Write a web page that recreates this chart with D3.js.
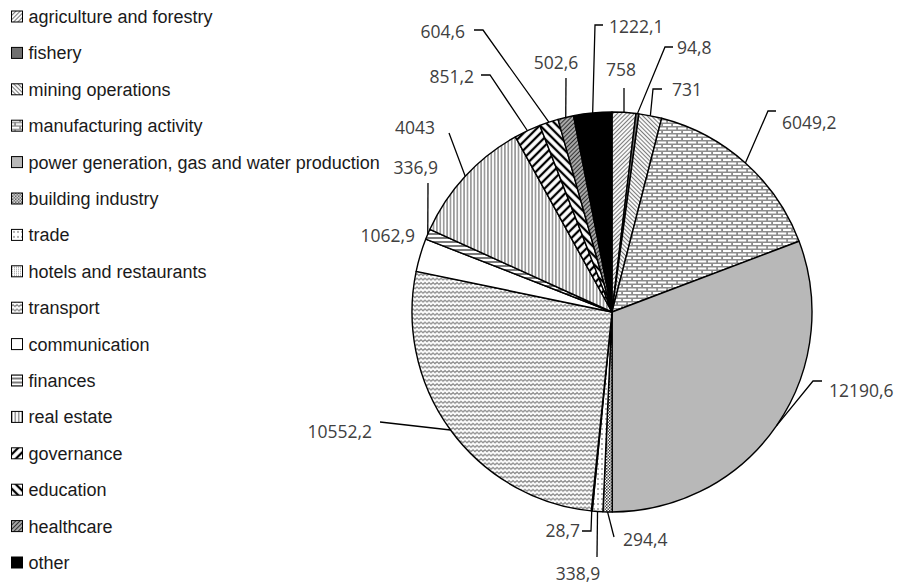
<!DOCTYPE html>
<html>
<head>
<meta charset="utf-8">
<script src="https://cdn.jsdelivr.net/npm/d3@7/dist/d3.min.js"></script>
<style>
  html, body { margin: 0; padding: 0; background: #fff; }
  svg { display: block; }
</style>
</head>
<body>
<svg id="chart" width="899" height="585"></svg>
<script>
// Sectors of the economy and their values (clockwise from 12 o'clock)
const categories = [
  "agriculture and forestry",
  "fishery",
  "mining operations",
  "manufacturing activity",
  "power generation, gas and water production",
  "building industry",
  "trade",
  "hotels and restaurants",
  "transport",
  "communication",
  "finances",
  "real estate",
  "governance",
  "education",
  "healthcare",
  "other"
];
const values = [758, 94.8, 731, 6049.2, 12190.6, 294.4, 338.9, 28.7, 10552.2, 1062.9, 336.9, 4043, 851.2, 604.6, 502.6, 1222.1];
const valueLabels = values.map(v => String(v).replace(".", ","));

// Fill style for each sector
const fillKeys = [
  "agri", "fish", "mining", "brick", "power", "building", "trade", "hotels",
  "wave", "comm", "hlines", "vlines", "govern", "educ", "health", "other"
];

// Hand placement of the value labels and their leader-line bends
const labelLayout = [
  { x: 621, y: 70,  anchor: "middle", bend: [[624, 88]] },
  { x: 677, y: 48,  anchor: "start",  bend: [[665, 47], [673, 47]] },
  { x: 672, y: 90,  anchor: "start",  bend: [[653, 89], [662, 89]] },
  { x: 782, y: 123, anchor: "start",  bend: [[768, 111], [776, 111]] },
  { x: 829, y: 391, anchor: "start",  bend: [[813, 381], [822, 381]] },
  { x: 623, y: 540, anchor: "start",  bend: [[614, 537]] },
  { x: 578, y: 574, anchor: "middle", bend: [[597, 557]] },
  { x: 580, y: 531, anchor: "end",    bend: [[591, 531], [582, 531]] },
  { x: 372, y: 432, anchor: "end",    bend: [[380, 422]] },
  { x: 415, y: 236, anchor: "end",    bend: null },
  { x: 438, y: 168, anchor: "end",    bend: [[428, 183]] },
  { x: 435, y: 128, anchor: "end",    bend: [[449, 133]] },
  { x: 474, y: 77,  anchor: "end",    bend: [[490, 75], [481, 75]] },
  { x: 465, y: 32,  anchor: "end",    bend: [[483, 30], [474, 30]] },
  { x: 556, y: 63,  anchor: "middle", bend: [[566, 78]] },
  { x: 609, y: 27,  anchor: "start",  bend: [[595, 25], [603, 25]] }
];

const svg = d3.select("#chart");
const defs = svg.append("defs");

function linePattern(id, spacing, angle, color, width, bg) {
  const p = defs.append("pattern")
    .attr("id", id)
    .attr("patternUnits", "userSpaceOnUse")
    .attr("width", spacing).attr("height", spacing)
    .attr("patternTransform", `rotate(${angle})`);
  p.append("rect").attr("width", spacing).attr("height", spacing).attr("fill", bg || "#fff");
  p.append("line").attr("x1", spacing / 2).attr("y1", 0).attr("x2", spacing / 2).attr("y2", spacing)
    .attr("stroke", color).attr("stroke-width", width);
}

linePattern("agri", 3, 45, "#7a7a7a", 1.1);
linePattern("mining", 3, -45, "#7a7a7a", 1.1);
linePattern("vlines", 3.4, 0, "#555", 1);
linePattern("hlines", 4, 90, "#333", 1.3);
linePattern("govern", 6, 45, "#000", 2.3);
linePattern("educ", 6, -45, "#000", 2.3);
linePattern("health", 3, 45, "#333", 1.3, "#bbb");

// brick wall
{
  const p = defs.append("pattern").attr("id", "brick").attr("patternUnits", "userSpaceOnUse")
    .attr("width", 10).attr("height", 7);
  p.append("rect").attr("width", 10).attr("height", 7).attr("fill", "#8c8c8c");
  p.append("rect").attr("x", 1).attr("y", 1).attr("width", 8.2).attr("height", 2).attr("fill", "#fff");
  p.append("rect").attr("x", -4).attr("y", 4.5).attr("width", 8.2).attr("height", 2).attr("fill", "#fff");
  p.append("rect").attr("x", 6).attr("y", 4.5).attr("width", 8.2).attr("height", 2).attr("fill", "#fff");
}
// dense dotted checker
{
  const p = defs.append("pattern").attr("id", "building").attr("patternUnits", "userSpaceOnUse")
    .attr("width", 3).attr("height", 3);
  p.append("rect").attr("width", 3).attr("height", 3).attr("fill", "#fff");
  p.append("rect").attr("width", 1.5).attr("height", 1.5).attr("fill", "#333");
  p.append("rect").attr("x", 1.5).attr("y", 1.5).attr("width", 1.5).attr("height", 1.5).attr("fill", "#555");
}
// sparse dashes
{
  const p = defs.append("pattern").attr("id", "trade").attr("patternUnits", "userSpaceOnUse")
    .attr("width", 4).attr("height", 5);
  p.append("rect").attr("width", 4).attr("height", 5).attr("fill", "#fff");
  p.append("rect").attr("x", 1.5).attr("y", 1).attr("width", 1).attr("height", 2).attr("fill", "#666");
}
// fine light dots
{
  const p = defs.append("pattern").attr("id", "hotels").attr("patternUnits", "userSpaceOnUse")
    .attr("width", 2).attr("height", 2);
  p.append("rect").attr("width", 2).attr("height", 2).attr("fill", "#fff");
  p.append("rect").attr("width", 1).attr("height", 1).attr("fill", "#999");
}
// horizontal wavy rows
{
  const p = defs.append("pattern").attr("id", "wave").attr("patternUnits", "userSpaceOnUse")
    .attr("width", 4).attr("height", 4.4);
  p.append("rect").attr("width", 4).attr("height", 4.4).attr("fill", "#fff");
  p.append("path").attr("d", "M0,2.8 L1,1.3 L3,3.3 L4,1.8").attr("fill", "none")
    .attr("stroke", "#858585").attr("stroke-width", 1.1);
}

const fillFor = {
  agri: "url(#agri)", fish: "#707070", mining: "url(#mining)", brick: "url(#brick)",
  power: "#b8b8b8", building: "url(#building)", trade: "url(#trade)", hotels: "url(#hotels)",
  wave: "url(#wave)", comm: "#fff", hlines: "url(#hlines)", vlines: "url(#vlines)",
  govern: "url(#govern)", educ: "url(#educ)", health: "url(#health)", other: "#000"
};

const data = categories.map((c, i) => ({ name: c, value: values[i], label: valueLabels[i], key: fillKeys[i], layout: labelLayout[i] }));

// Pie
const cx = 612, cy = 312, radius = 200;
const pie = d3.pie().value(d => d.value).sort(null).startAngle(0).endAngle(2 * Math.PI);
const arc = d3.arc().innerRadius(0).outerRadius(radius);
const arcs = pie(data);

const g = svg.append("g").attr("transform", `translate(${cx},${cy})`);
g.selectAll("path.slice")
  .data(arcs)
  .join("path")
  .attr("class", "slice")
  .attr("d", arc)
  .attr("fill", d => fillFor[d.data.key])
  .attr("stroke", "#000")
  .attr("stroke-width", 1.4)
  .attr("stroke-linejoin", "round");

// Leader lines
const line = d3.line();
svg.append("g").selectAll("path.leader")
  .data(arcs.filter(d => d.data.layout.bend))
  .join("path")
  .attr("class", "leader")
  .attr("d", d => {
    const a = (d.startAngle + d.endAngle) / 2;
    const p0 = [cx + radius * Math.sin(a), cy - radius * Math.cos(a)];
    return line([p0, ...d.data.layout.bend]);
  })
  .attr("fill", "none")
  .attr("stroke", "#000")
  .attr("stroke-width", 1.3);

// Value labels
svg.append("g").selectAll("text.val")
  .data(arcs)
  .join("text")
  .attr("class", "val")
  .attr("x", d => d.data.layout.x)
  .attr("y", d => d.data.layout.y)
  .attr("dy", "0.36em")
  .attr("text-anchor", d => d.data.layout.anchor)
  .attr("font-family", "'Open Sans', sans-serif")
  .attr("font-size", 17.5)
  .attr("fill", "#404040")
  .text(d => d.data.label);

// Legend
const legend = svg.append("g").selectAll("g.item")
  .data(data)
  .join("g")
  .attr("class", "item")
  .attr("transform", (d, i) => `translate(0,${16.5 + i * 36.4})`);
legend.append("rect")
  .attr("x", 11.5).attr("y", -5.5)
  .attr("width", 11).attr("height", 11)
  .attr("fill", d => fillFor[d.key])
  .attr("stroke", "#000").attr("stroke-width", 1);
legend.append("text")
  .attr("x", 28.5)
  .attr("y", 0)
  .attr("dy", "0.36em")
  .attr("font-family", "'Liberation Sans', Arial, sans-serif")
  .attr("font-size", 18)
  .attr("fill", "#1a1a1a")
  .text(d => d.name);
</script>
</body>
</html>
